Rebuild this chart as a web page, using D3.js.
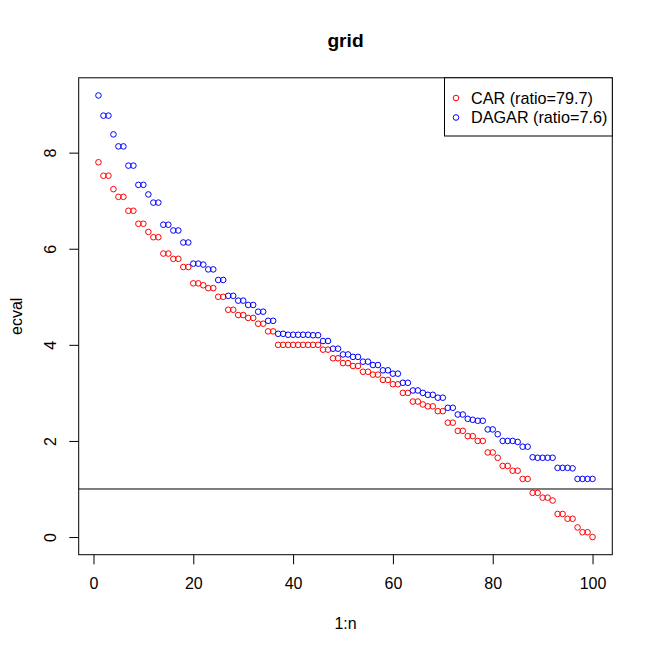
<!DOCTYPE html>
<html>
<head>
<meta charset="utf-8">
<script src="https://cdn.jsdelivr.net/npm/d3@7"></script>
<style>
    body { margin: 0; background: #fff; }
    text { font-family: Arial, "Liberation Sans", sans-serif; fill: #000; }
</style>
</head>
<body>
<div class="vis-grid"></div>
<script>
// eigenvalues, sorted
const carVals = [
    7.80, 7.52, 7.52, 7.24, 7.08, 7.08, 6.79, 6.79, 6.52, 6.52,
    6.35, 6.24, 6.24, 5.90, 5.90, 5.79, 5.79, 5.62, 5.62, 5.28,
    5.28, 5.24, 5.18, 5.18, 5.00, 5.00, 4.73, 4.73, 4.62, 4.62,
    4.56, 4.56, 4.44, 4.44, 4.28, 4.28, 4.00, 4.00, 4.00, 4.00,
    4.00, 4.00, 4.00, 4.00, 4.00, 3.90, 3.90, 3.72, 3.72, 3.62,
    3.62, 3.56, 3.56, 3.44, 3.44, 3.38, 3.38, 3.27, 3.27, 3.18,
    3.18, 3.00, 3.00, 2.82, 2.82, 2.76, 2.72, 2.72, 2.62, 2.62,
    2.38, 2.38, 2.21, 2.21, 2.10, 2.10, 2.00, 2.00, 1.76, 1.76,
    1.65, 1.48, 1.48, 1.38, 1.38, 1.21, 1.21, 0.92, 0.92, 0.82,
    0.82, 0.76, 0.48, 0.48, 0.38, 0.38, 0.20, 0.10, 0.10, 0.00
];
const dagarVals = [
    9.19, 8.77, 8.77, 8.38, 8.13, 8.13, 7.73, 7.73, 7.33, 7.33,
    7.13, 6.96, 6.96, 6.50, 6.50, 6.38, 6.38, 6.13, 6.13, 5.69,
    5.69, 5.67, 5.57, 5.57, 5.35, 5.35, 5.02, 5.02, 4.92, 4.92,
    4.83, 4.83, 4.69, 4.69, 4.50, 4.50, 4.23, 4.23, 4.21, 4.21,
    4.21, 4.21, 4.21, 4.20, 4.20, 4.08, 4.08, 3.92, 3.92, 3.80,
    3.80, 3.75, 3.75, 3.65, 3.65, 3.58, 3.58, 3.47, 3.47, 3.40,
    3.40, 3.21, 3.21, 3.05, 3.05, 3.00, 2.96, 2.96, 2.90, 2.90,
    2.69, 2.69, 2.55, 2.55, 2.46, 2.44, 2.42, 2.42, 2.24, 2.24,
    2.14, 2.00, 2.00, 2.00, 1.98, 1.88, 1.88, 1.66, 1.65, 1.65,
    1.65, 1.65, 1.44, 1.44, 1.44, 1.43, 1.21, 1.21, 1.21, 1.21
];
const seriesNames = ['CAR (ratio=79.7)', 'DAGAR (ratio=7.6)'];
const seriesColors = ['#ff0000', '#0000ff'];
const xTicks = [0, 20, 40, 60, 80, 100];
const yTicks = [0, 2, 4, 6, 8];
const refLine = 1;

const W = 653, H = 653;
// plot box (R default margins)
const box = { left: 78.7, right: 612.3, top: 77.8, bottom: 554.7 };

const svg = d3.select('.vis-grid')
    .append('svg')
    .attr('width', W)
    .attr('height', H);

const n = carVals.length;
const idx = d3.range(1, n + 1);

// R style 4% padding on both axes
const allVals = carVals.concat(dagarVals);
const yMin = d3.min(allVals), yMax = d3.max(allVals);
const xPad = (n - 1) * 0.04, yPad = (yMax - yMin) * 0.04;

let x = d3.scaleLinear()
    .domain([1 - xPad, n + xPad])
    .range([box.left, box.right]);
let y = d3.scaleLinear()
    .domain([yMin - yPad, yMax + yPad])
    .range([box.bottom, box.top]);

// points
const series = [carVals, dagarVals];
series.forEach(function (vals, s) {
    svg.append('g')
        .selectAll('circle')
        .data(vals)
        .enter()
        .append('circle')
        .attr('cx', function (d, i) { return x(idx[i]); })
        .attr('cy', function (d) { return y(d); })
        .attr('r', 2.8)
        .style('fill', 'none')
        .style('stroke', seriesColors[s])
        .style('stroke-width', 1);
});

// abline h=1
svg.append('line')
    .attr('x1', box.left).attr('x2', box.right)
    .attr('y1', y(refLine)).attr('y2', y(refLine))
    .style('stroke', '#000')
    .style('stroke-width', 1);

// box
svg.append('rect')
    .attr('x', box.left).attr('y', box.top)
    .attr('width', box.right - box.left)
    .attr('height', box.bottom - box.top)
    .style('fill', 'none')
    .style('stroke', '#000')
    .style('stroke-width', 1);

// x axis
let xAxis = svg.append('g')
    .attr('class', 'x_axis')
    .attr('transform', 'translate(0,' + box.bottom + ')')
    .call(d3.axisBottom(x).tickValues(xTicks).tickSize(9.6).tickPadding(0).tickSizeOuter(0));
xAxis.select('.domain').remove();
xAxis.selectAll('text')
    .attr('y', 0)
    .attr('dy', '34.8px')
    .style('font-size', '16px')
    .style('font-family', 'Arial, "Liberation Sans", sans-serif');

// y axis, labels parallel to the axis
let yAxis = svg.append('g')
    .attr('class', 'y_axis')
    .attr('transform', 'translate(' + box.left + ',0)')
    .call(d3.axisLeft(y).tickValues(yTicks).tickSize(9.4).tickSizeOuter(0));
yAxis.select('.domain').remove();
yAxis.selectAll('text')
    .attr('x', 0)
    .attr('dy', 0)
    .attr('text-anchor', 'middle')
    .attr('transform', function (d) { return 'translate(-22.7,0) rotate(-90)'; })
    .style('font-size', '16px')
    .style('font-family', 'Arial, "Liberation Sans", sans-serif');

// titles
const cx = (box.left + box.right) / 2;
svg.append('text')
    .attr('x', cx).attr('y', 46.7)
    .attr('text-anchor', 'middle')
    .style('font-size', '19.2px')
    .style('font-weight', 'bold')
    .text('grid');
svg.append('text')
    .attr('x', cx).attr('y', 629)
    .attr('text-anchor', 'middle')
    .style('font-size', '16px')
    .text('1:n');
svg.append('text')
    .attr('transform', 'translate(22,' + ((box.top + box.bottom) / 2) + ') rotate(-90)')
    .attr('text-anchor', 'middle')
    .style('font-size', '16px')
    .text('ecval');

// legend, top right
const lg = { left: 444.5, top: box.top, right: box.right, bottom: 136 };
svg.append('rect')
    .attr('x', lg.left).attr('y', lg.top)
    .attr('width', lg.right - lg.left)
    .attr('height', lg.bottom - lg.top)
    .style('fill', '#fff')
    .style('stroke', '#000')
    .style('stroke-width', 1);
seriesNames.forEach(function (name, i) {
    const ly = 98 + i * 19.5;
    svg.append('circle')
        .attr('cx', 456).attr('cy', ly)
        .attr('r', 2.8)
        .style('fill', 'none')
        .style('stroke', seriesColors[i]);
    svg.append('text')
        .attr('x', 471).attr('y', ly)
        .attr('dy', '0.36em')
        .style('font-size', '16.2px')
        .text(name);
});
</script>
</body>
</html>
